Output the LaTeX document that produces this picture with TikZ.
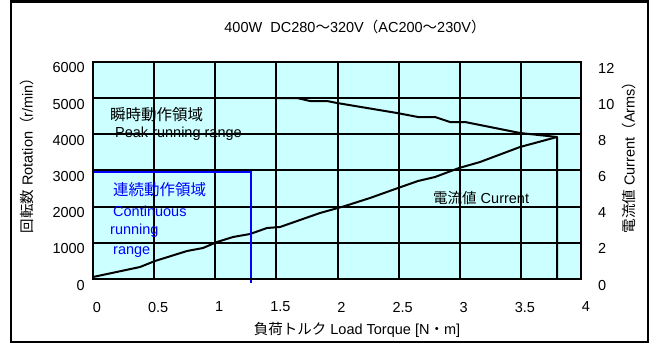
\documentclass[tikz,border=0pt]{standalone}
\usepackage{fontspec}
\setmainfont{Liberation Sans}
\newfontfamily\cjk{Noto Sans CJK JP}
\definecolor{plotbg}{HTML}{CCFFFF}
\definecolor{contblue}{HTML}{0000FF}
\tikzset{
  lbl/.style={font=\fontsize{14.5bp}{16bp}\selectfont, inner sep=0pt},
  biglbl/.style={font=\fontsize{15.5bp}{17bp}\selectfont, inner sep=0pt},
  gridline/.style={line width=2bp, black},
  plotframe/.style={line width=2.6bp, black},
  curve/.style={line width=2bp, black, line join=round},
  contline/.style={line width=2.4bp, contblue},
}
\begin{document}
\begin{tikzpicture}[x=1bp,y=-1bp]
\useasboundingbox (0,0) rectangle (652,344);
% outer frame
\draw[line width=2.5bp] (11,1.5) rectangle (648,342);
% plot background
\fill[plotbg] (93,62) rectangle (581,279);
% grid
\foreach \t in {0.5,1,1.5,2,2.5,3,3.5}
  \draw[gridline] ({93+\t*122.25},62) -- ({93+\t*122.25},279);
\foreach \k in {1,...,5}
  \draw[gridline] (93,{279-\k*36.17}) -- (581,{279-\k*36.17});
% peak running curve
\draw[curve] (276,98) -- (297,98) -- (310,101) -- (327,101) -- (337,103) -- (397,113) -- (418,117) -- (435,117) -- (450,122) -- (465,122) -- (520,133) -- (557,137) -- (557,279);
% current curve
\draw[curve] (93,277) -- (140,267) -- (155,261) -- (187,251) -- (203,248) -- (217,242) -- (233,237) -- (250,234) -- (267,228) -- (280,227) -- (320,213) -- (345,206) -- (370,198) -- (398,188) -- (418,181) -- (435,177) -- (459,168) -- (480,162) -- (520,147) -- (557,137);
% continuous range box
\draw[contline] (93,172) -- (251,172) -- (251,283);
% plot frame
\draw[plotframe] (93,62) rectangle (581,279);
% title
\node[lbl] (title) at (355,27) {400W\ \ DC280{\cjk ～}320V{\cjk （}AC200{\cjk ～}230V{\cjk ）}};
% y tick labels left
\foreach \k in {0,...,6}{
  \pgfmathtruncatemacro\v{\k*1000}
  \node[lbl,anchor=east] (yl\k) at (85,{279-\k*36.17+6}) {\v};
}
% y tick labels right
\foreach \k in {0,...,6}{
  \pgfmathtruncatemacro\v{\k*2}
  \node[lbl,anchor=west] (yr\k) at (598,{279-\k*36.17+6}) {\v};
}
% x tick labels
\foreach \t [count=\i] in {0,0.5,1,1.5,2,2.5,3,3.5,4}
  \node[lbl] (xl\i) at ({93+\t*122.25+4},307) {\t};
% axis titles
\node[lbl] (xtitle) at (357,330) {{\cjk 負荷トルク} Load Torque [N{\cjk ・}m]};
\node[lbl,rotate=90] (ytitle) at (27,152) {{\cjk 回転数} Rotation{\cjk （}r/min{\cjk ）}};
\node[lbl,rotate=90] (y2title) at (629,154) {{\cjk 電流値} Current{\cjk （}Arms{\cjk ）}};
% region labels
\node[biglbl,anchor=west] (peakjp) at (110,115) {\cjk 瞬時動作領域};
\node[lbl,anchor=base west] (peaken) at (115,137) {Peak running range};
\node[biglbl,anchor=west,text=contblue] (contjp) at (113,190) {\cjk 連続動作領域};
\node[lbl,anchor=base west,text=contblue] (conten1) at (113,216) {Continuous};
\node[lbl,anchor=base west,text=contblue] (conten2) at (110,234) {running};
\node[lbl,anchor=base west,text=contblue] (conten3) at (113,254) {range};
\node[lbl,anchor=base west] (curlbl) at (433,203) {{\cjk 電流値} Current};
\end{tikzpicture}
\end{document}
